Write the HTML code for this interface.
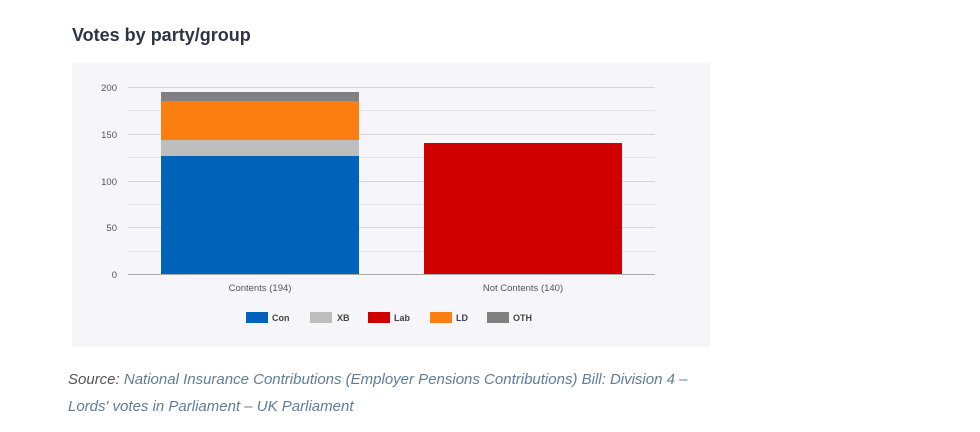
<!DOCTYPE html>
<html><head><style>
body{margin:0;width:980px;height:432px;background:#fff;position:relative;font-family:"Liberation Sans",sans-serif;overflow:hidden}
.t{position:absolute;left:72px;top:25px;font-size:18px;font-weight:bold;color:#2f3447}
.s{position:absolute;left:68px;top:366px;font-size:15px;font-style:italic;color:#555;line-height:27px;font-weight:300}
.s a{color:#5f7d98;text-decoration:none}
</style></head><body>
<div class="t">Votes by party/group</div>
<svg width="980" height="432" style="position:absolute;left:0;top:0">
<rect x="72" y="63" width="638" height="284" fill="#f6f5fa"/>
<g stroke="#e4e3ea" stroke-width="1">
<line x1="128" x2="655" y1="110.5" y2="110.5"/><line x1="128" x2="655" y1="157.5" y2="157.5"/><line x1="128" x2="655" y1="204.5" y2="204.5"/><line x1="128" x2="655" y1="251.5" y2="251.5"/>
</g>
<g stroke="#d6d5dc" stroke-width="1">
<line x1="128" x2="655" y1="87.5" y2="87.5"/><line x1="128" x2="655" y1="134.5" y2="134.5"/><line x1="128" x2="655" y1="181.5" y2="181.5"/><line x1="128" x2="655" y1="227.5" y2="227.5"/>
</g>
<rect x="161" y="156" width="198" height="118" fill="#0063ba"/>
<rect x="161" y="140" width="198" height="16" fill="#bebebe"/>
<rect x="161" y="101" width="198" height="39" fill="#fb7f10"/>
<rect x="161" y="92" width="198" height="9" fill="#808080"/>
<rect x="424" y="143" width="198" height="131" fill="#d00000"/>
<line x1="128" x2="655" y1="274.5" y2="274.5" stroke="#aaa"/>
<g font-size="9.5" fill="#555" text-anchor="end" font-family="Liberation Sans,sans-serif">
<text x="117" y="91">200</text><text x="117" y="138">150</text><text x="117" y="185">100</text><text x="117" y="231">50</text><text x="117" y="278">0</text>
</g>
<g font-size="9.5" fill="#555" text-anchor="middle">
<text x="260" y="291">Contents (194)</text><text x="523" y="291">Not Contents (140)</text>
</g>
<g font-size="9" font-weight="bold" fill="#444">
<rect x="246" y="312" width="22" height="11" fill="#0063ba"/><text x="272" y="321">Con</text>
<rect x="310" y="312" width="22" height="11" fill="#bebebe"/><text x="337" y="321">XB</text>
<rect x="368" y="312" width="22" height="11" fill="#d00000"/><text x="394" y="321">Lab</text>
<rect x="430" y="312" width="22" height="11" fill="#fb7f10"/><text x="456" y="321">LD</text>
<rect x="487" y="312" width="22" height="11" fill="#808080"/><text x="513" y="321">OTH</text>
</g>
</svg>
<div class="s">Source: <a>National Insurance Contributions (Employer Pensions Contributions) Bill: Division 4 –<br>Lords' votes in Parliament – UK Parliament</a></div>
</body></html>
